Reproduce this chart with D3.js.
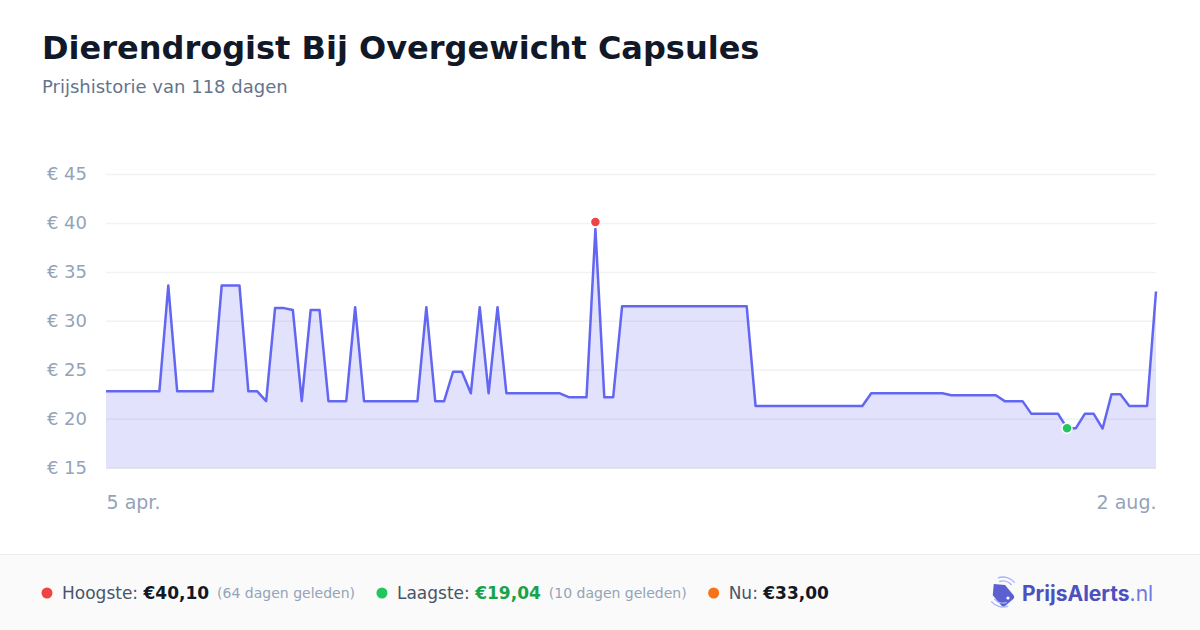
<!DOCTYPE html>
<html>
  <head>
    <meta charset="UTF-8">
    <title>Dierendrogist Bij Overgewicht Capsules - prijshistorie</title>
    <script src="https://cdn.jsdelivr.net/npm/d3@7"></script>
    <style>
      body { margin: 0; background: #fff; }
      svg { display: block; }
      .title { font-family: "DejaVu Sans", sans-serif; font-weight: bold; font-size: 32px; fill: #111827; }
      .subtitle { font-family: "DejaVu Sans", sans-serif; font-size: 18px; fill: #64748b; }
      .axis text { font-family: "DejaVu Sans", sans-serif; font-size: 18px; fill: #94a3b8; }
      .xaxis text { font-size: 19px; }
      .foot { font-family: "DejaVu Sans", sans-serif; font-size: 17px; fill: #475569; }
      .foot .val { font-weight: bold; fill: #111827; }
      .foot .small { font-size: 14px; fill: #94a3b8; }
    </style>
  </head>
  <body>
    <div id="chart"></div>
    <script>
      // price per day, 5 apr. .. 2 aug.
      const prices = [
        22.8, 22.8, 22.8, 22.8, 22.8, 22.8, 22.8, 33.6, 22.8, 22.8,
        22.8, 22.8, 22.8, 33.6, 33.6, 33.6, 22.8, 22.8, 21.8, 31.3,
        31.3, 31.1, 21.8, 31.1, 31.1, 21.8, 21.8, 21.8, 31.4, 21.8,
        21.8, 21.8, 21.8, 21.8, 21.8, 21.8, 31.4, 21.8, 21.8, 24.8,
        24.8, 22.6, 31.4, 22.6, 31.4, 22.6, 22.6, 22.6, 22.6, 22.6,
        22.6, 22.6, 22.2, 22.2, 22.2, 39.4, 22.2, 22.2, 31.5, 31.5,
        31.5, 31.5, 31.5, 31.5, 31.5, 31.5, 31.5, 31.5, 31.5, 31.5,
        31.5, 31.5, 31.5, 21.3, 21.3, 21.3, 21.3, 21.3, 21.3, 21.3,
        21.3, 21.3, 21.3, 21.3, 21.3, 21.3, 22.6, 22.6, 22.6, 22.6,
        22.6, 22.6, 22.6, 22.6, 22.6, 22.4, 22.4, 22.4, 22.4, 22.4,
        22.4, 21.8, 21.8, 21.8, 20.5, 20.5, 20.5, 20.5, 19.04, 19.04,
        20.5, 20.5, 19.0, 22.5, 22.5, 21.3, 21.3, 21.3, 33.0
      ];
      const yTicks = [15, 20, 25, 30, 35, 40, 45];
      const xTickDays = [0, 118];
      const xTickLabels = ["5 apr.", "2 aug."];

      const highest = { day: 55, value: 40.10, label: "€40,10", ago: "(64 dagen geleden)" };
      const lowest = { day: 108, value: 19.04, label: "€19,04", ago: "(10 dagen geleden)" };
      const current = { label: "€33,00" };

      const width = 1200;
      const height = 630;
      const plot = { left: 106, right: 1156, top: 174, bottom: 467.7 };

      const svg = d3.select("#chart")
        .append("svg")
        .attr("width", width)
        .attr("height", height);

      svg.append("text")
        .attr("class", "title")
        .attr("x", 42)
        .attr("y", 59)
        .text("Dierendrogist Bij Overgewicht Capsules");

      svg.append("text")
        .attr("class", "subtitle")
        .attr("x", 42)
        .attr("y", 93)
        .text("Prijshistorie van 118 dagen");

      const x = d3.scaleLinear()
        .domain([0, prices.length - 1])
        .range([plot.left, plot.right]);

      const y = d3.scaleLinear()
        .domain([15, 45])
        .range([plot.bottom, plot.top]);

      // gridlines + y labels
      const yAxis = svg.append("g")
        .attr("class", "axis")
        .attr("transform", `translate(${plot.left},0)`)
        .call(d3.axisLeft(y)
          .tickValues(yTicks)
          .tickSize(-(plot.right - plot.left))
          .tickPadding(19)
          .tickFormat(d => "€ " + d));
      yAxis.select(".domain").remove();
      yAxis.selectAll(".tick line")
        .attr("stroke", d => d === 15 ? "#e3e5ea" : "#f1f2f4")
        .attr("stroke-width", 1.5);

      const xAxis = svg.append("g")
        .attr("class", "axis xaxis")
        .attr("transform", `translate(0,${plot.bottom})`)
        .call(d3.axisBottom(x)
          .tickValues(xTickDays)
          .tickSize(0)
          .tickPadding(28)
          .tickFormat((d, i) => xTickLabels[i]));
      xAxis.select(".domain").remove();
      xAxis.selectAll(".tick text")
        .attr("text-anchor", (d, i) => i === 0 ? "start" : "end");

      const area = d3.area()
        .x((d, i) => x(i))
        .y0(y(15))
        .y1(d => y(d));

      const line = d3.line()
        .x((d, i) => x(i))
        .y(d => y(d));

      svg.append("path")
        .datum(prices)
        .attr("d", area)
        .attr("fill", "#6366f1")
        .attr("fill-opacity", 0.19);

      svg.append("path")
        .datum(prices)
        .attr("d", line)
        .attr("fill", "none")
        .attr("stroke", "#6366f1")
        .attr("stroke-width", 2.5)
        .attr("stroke-linejoin", "round");

      svg.append("circle")
        .attr("cx", x(highest.day))
        .attr("cy", y(highest.value))
        .attr("r", 5)
        .attr("fill", "#ef4444")
        .attr("stroke", "#fff")
        .attr("stroke-width", 1.5);

      svg.append("circle")
        .attr("cx", x(lowest.day))
        .attr("cy", y(lowest.value))
        .attr("r", 5)
        .attr("fill", "#22c55e")
        .attr("stroke", "#fff")
        .attr("stroke-width", 1.5);

      // footer
      svg.append("rect")
        .attr("x", 0)
        .attr("y", 554)
        .attr("width", width)
        .attr("height", height - 554)
        .attr("fill", "#fafafa");
      svg.append("line")
        .attr("x1", 0).attr("x2", width)
        .attr("y1", 554.5).attr("y2", 554.5)
        .attr("stroke", "#eeeeee");

      const items = [
        { color: "#ef4444", name: "Hoogste: ", value: highest.label, valColor: "#111827", ago: highest.ago },
        { color: "#22c55e", name: "Laagste: ", value: lowest.label, valColor: "#16a34a", ago: lowest.ago },
        { color: "#f97316", name: "Nu: ", value: current.label, valColor: "#111827", ago: null }
      ];

      let cx = 47;
      const fy = 593;
      items.forEach(it => {
        svg.append("circle")
          .attr("cx", cx)
          .attr("cy", fy)
          .attr("r", 5.5)
          .attr("fill", it.color);
        const t = svg.append("text")
          .attr("class", "foot")
          .attr("x", cx + 15)
          .attr("y", fy)
          .attr("dominant-baseline", "central");
        t.append("tspan").text(it.name);
        t.append("tspan").attr("class", "val").style("fill", it.valColor).text(it.value);
        if (it.ago) {
          t.append("tspan").attr("class", "small").attr("dx", 8).text(it.ago);
        }
        const bb = t.node().getBBox();
        cx = bb.x + bb.width + 27;
      });

      // logo
      const logo = svg.append("g").attr("transform", "translate(1003,592)");
      logo.append("path")
        .attr("d", "M-10,-4 L-2,-12 L6,-4 L6,9 Q6,12 3,12 L-7,12 Q-10,12 -10,9 Z")
        .attr("transform", "rotate(-40)")
        .attr("fill", "#5b5fd0");
      logo.append("circle")
        .attr("cx", 5).attr("cy", 6).attr("r", 1.6)
        .attr("fill", "#fff");
      [11, 15].forEach(r => {
        logo.append("path")
          .attr("d", d3.arc()({ innerRadius: r - 0.7, outerRadius: r + 0.7, startAngle: -0.35, endAngle: 0.9 }))
          .attr("fill", "#a5b4fc");
        logo.append("path")
          .attr("d", d3.arc()({ innerRadius: r - 0.7, outerRadius: r + 0.7, startAngle: Math.PI - 0.35, endAngle: Math.PI + 0.9 }))
          .attr("fill", "#a5b4fc");
      });
      const lt = svg.append("text")
        .attr("x", 1022)
        .attr("y", 593)
        .attr("dominant-baseline", "central")
        .style("font-family", "Inter, 'Noto Sans', sans-serif")
        .style("font-size", "21px");
      lt.append("tspan").style("font-weight", "bold").style("fill", "#4c51bf").text("PrijsAlerts");
      lt.append("tspan").style("fill", "#6c7ae0").text(".nl");
    </script>
  </body>
</html>
